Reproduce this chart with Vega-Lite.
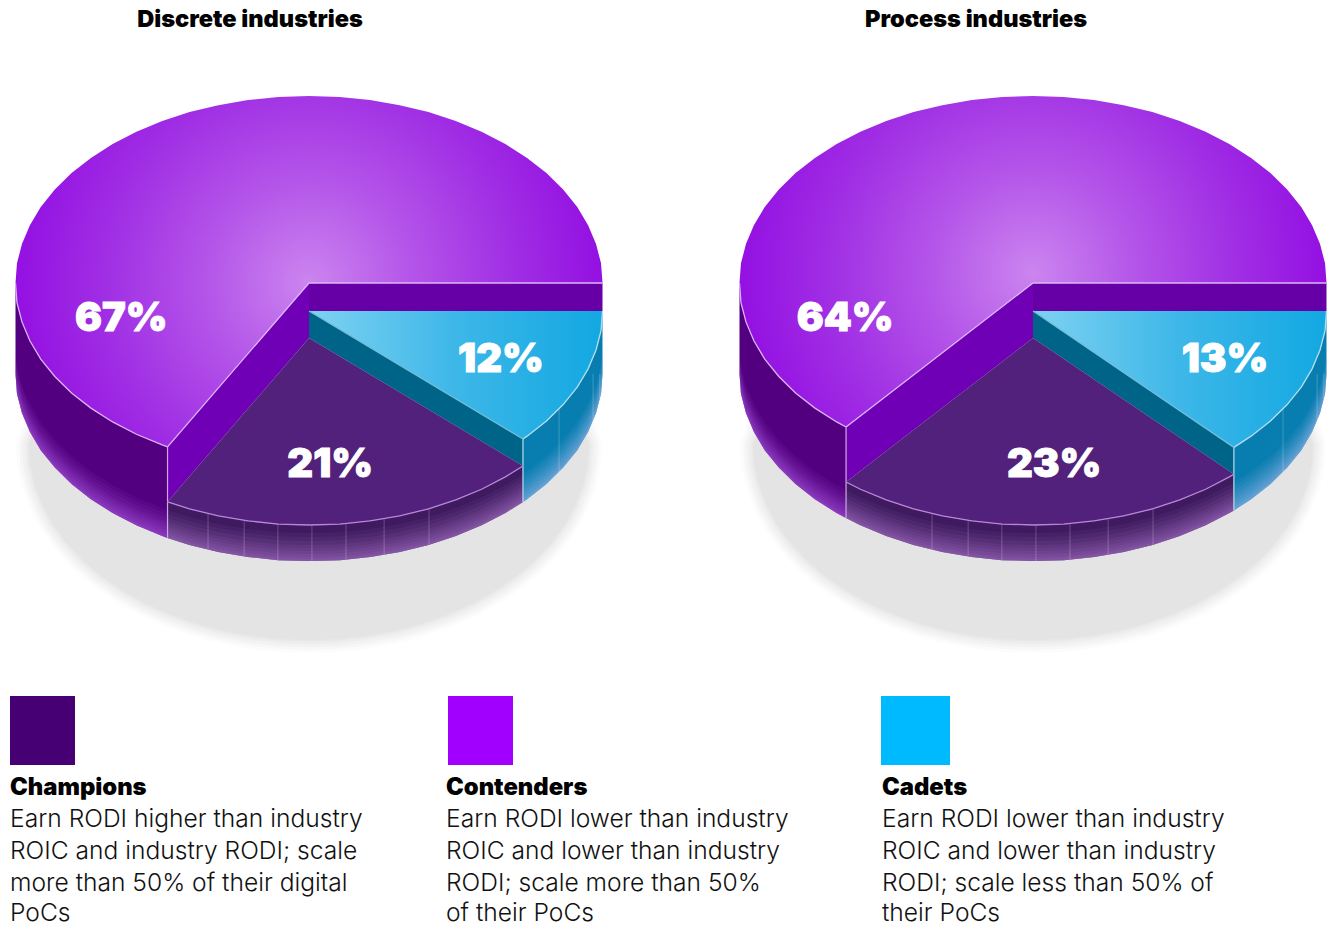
{
"$schema":"https://vega.github.io/schema/vega-lite/v6.json",
"padding":0,"spacing":0,"background":"white",
"config":{"view":{"stroke":null}},
"vconcat":[
{"data":{"values":[
{"panel":["D"],"k":"title","x":-0.201,"y":1.407,"text":"Discrete industries"},
{"panel":["P"],"k":"title","x":-0.194,"y":1.407,"text":"Process industries"},
{"panel":["D"],"k":"label","seg":"Contenders","x":-0.64,"y":-0.19,"share":0.67},
{"panel":["D"],"k":"label","seg":"Champions","x":0.072,"y":-0.971,"share":0.21},
{"panel":["D"],"k":"label","seg":"Cadets","x":0.654,"y":-0.414,"share":0.12},
{"panel":["P"],"k":"label","seg":"Contenders","x":-0.64,"y":-0.19,"share":0.64},
{"panel":["P"],"k":"label","seg":"Champions","x":0.072,"y":-0.971,"share":0.23},
{"panel":["P"],"k":"label","seg":"Cadets","x":0.654,"y":-0.414,"share":0.13},

{"panel":["D","P"],"k":"shadow","x":0.954,"y":-0.866},{"panel":["D","P"],"k":"shadow","x":0.826,"y":-0.345},{"panel":["D","P"],"k":"shadow","x":0.477,"y":0.037},{"panel":["D","P"],"k":"shadow","x":0,"y":0.177},{"panel":["D","P"],"k":"shadow","x":-0.477,"y":0.037},{"panel":["D","P"],"k":"shadow","x":-0.826,"y":-0.345},
{"panel":["D","P"],"k":"shadow","x":-0.954,"y":-0.866},{"panel":["D","P"],"k":"shadow","x":-0.949,"y":-0.976},{"panel":["D","P"],"k":"shadow","x":-0.933,"y":-1.083},{"panel":["D","P"],"k":"shadow","x":-0.907,"y":-1.188},{"panel":["D","P"],"k":"shadow","x":-0.872,"y":-1.29},{"panel":["D","P"],"k":"shadow","x":-0.826,"y":-1.388},{"panel":["D","P"],"k":"shadow","x":-0.772,"y":-1.479},{"panel":["D","P"],"k":"shadow","x":-0.709,"y":-1.564},{"panel":["D","P"],"k":"shadow","x":-0.638,"y":-1.641},{"panel":["D","P"],"k":"shadow","x":-0.561,"y":-1.71},{"panel":["D","P"],"k":"shadow","x":-0.477,"y":-1.769},{"panel":["D","P"],"k":"shadow","x":-0.388,"y":-1.819},{"panel":["D","P"],"k":"shadow","x":-0.295,"y":-1.858},{"panel":["D","P"],"k":"shadow","x":-0.198,"y":-1.886},{"panel":["D","P"],"k":"shadow","x":-0.1,"y":-1.904},{"panel":["D","P"],"k":"shadow","x":0,"y":-1.909},{"panel":["D","P"],"k":"shadow","x":0.1,"y":-1.904},{"panel":["D","P"],"k":"shadow","x":0.198,"y":-1.886},{"panel":["D","P"],"k":"shadow","x":0.295,"y":-1.858},{"panel":["D","P"],"k":"shadow","x":0.388,"y":-1.819},{"panel":["D","P"],"k":"shadow","x":0.477,"y":-1.769},{"panel":["D","P"],"k":"shadow","x":0.561,"y":-1.71},{"panel":["D","P"],"k":"shadow","x":0.638,"y":-1.641},{"panel":["D","P"],"k":"shadow","x":0.709,"y":-1.564},{"panel":["D","P"],"k":"shadow","x":0.772,"y":-1.479},{"panel":["D","P"],"k":"shadow","x":0.826,"y":-1.388},{"panel":["D","P"],"k":"shadow","x":0.872,"y":-1.29},{"panel":["D","P"],"k":"shadow","x":0.907,"y":-1.188},{"panel":["D","P"],"k":"shadow","x":0.933,"y":-1.083},{"panel":["D","P"],"k":"shadow","x":0.949,"y":-0.976},

{"panel":["D","P"],"k":"wall","seg":"Contenders","x":-1,"y":0,"y2":-0.487},
{"panel":["D","P"],"k":"wall","seg":"Contenders","x":-0.995,"y":-0.105,"y2":-0.592},
{"panel":["D","P"],"k":"wall","seg":"Contenders","x":-0.978,"y":-0.208,"y2":-0.695},
{"panel":["D","P"],"k":"wall","seg":"Contenders","x":-0.951,"y":-0.309,"y2":-0.796},
{"panel":["D","P"],"k":"wall","seg":"Contenders","x":-0.914,"y":-0.407,"y2":-0.894},
{"panel":["D","P"],"k":"wall","seg":"Contenders","x":-0.866,"y":-0.5,"y2":-0.987},
{"panel":["D","P"],"k":"wall","seg":"Contenders","x":-0.809,"y":-0.588,"y2":-1.075},
{"panel":["D","P"],"k":"wall","seg":"Contenders","x":-0.743,"y":-0.669,"y2":-1.156},
{"panel":["D","P"],"k":"wall","seg":"Contenders","x":-0.669,"y":-0.743,"y2":-1.23},
{"panel":["P"],"k":"wall","seg":"Contenders","x":-0.637,"y":-0.77,"y2":-1.257},
{"panel":["D"],"k":"wall","seg":"Contenders","x":-0.588,"y":-0.809,"y2":-1.296},
{"panel":["D"],"k":"wall","seg":"Contenders","x":-0.5,"y":-0.866,"y2":-1.353},
{"panel":["D"],"k":"wall","seg":"Contenders","x":-0.482,"y":-0.876,"y2":-1.363},

{"panel":["P"],"k":"wall","seg":"Champions","x":-0.637,"y":-1.064,"y2":-1.257},
{"panel":["P"],"k":"wall","seg":"Champions","x":-0.588,"y":-1.103,"y2":-1.296},
{"panel":["P"],"k":"wall","seg":"Champions","x":-0.5,"y":-1.16,"y2":-1.353},
{"panel":["D"],"k":"wall","seg":"Champions","x":-0.482,"y":-1.17,"y2":-1.363},
{"panel":["D","P"],"k":"wall","seg":"Champions","x":-0.407,"y":-1.208,"y2":-1.401},
{"panel":["D","P"],"k":"wall","seg":"Champions","x":-0.309,"y":-1.245,"y2":-1.438},
{"panel":["D","P"],"k":"wall","seg":"Champions","x":-0.208,"y":-1.272,"y2":-1.465},
{"panel":["D","P"],"k":"wall","seg":"Champions","x":-0.105,"y":-1.289,"y2":-1.482},
{"panel":["D","P"],"k":"wall","seg":"Champions","x":0,"y":-1.294,"y2":-1.487},
{"panel":["D","P"],"k":"wall","seg":"Champions","x":0.105,"y":-1.289,"y2":-1.482},
{"panel":["D","P"],"k":"wall","seg":"Champions","x":0.208,"y":-1.272,"y2":-1.465},
{"panel":["D","P"],"k":"wall","seg":"Champions","x":0.309,"y":-1.245,"y2":-1.438},
{"panel":["D","P"],"k":"wall","seg":"Champions","x":0.407,"y":-1.208,"y2":-1.401},
{"panel":["D","P"],"k":"wall","seg":"Champions","x":0.5,"y":-1.16,"y2":-1.353},
{"panel":["D","P"],"k":"wall","seg":"Champions","x":0.588,"y":-1.103,"y2":-1.296},
{"panel":["D","P"],"k":"wall","seg":"Champions","x":0.669,"y":-1.037,"y2":-1.23},
{"panel":["P"],"k":"wall","seg":"Champions","x":0.6845,"y":-1.023,"y2":-1.216},
{"panel":["D"],"k":"wall","seg":"Champions","x":0.729,"y":-0.9785,"y2":-1.1715},

{"panel":["P"],"k":"wall","seg":"Cadets","x":0.6845,"y":-0.879,"y2":-1.216},
{"panel":["D"],"k":"wall","seg":"Cadets","x":0.729,"y":-0.8345,"y2":-1.1715},
{"panel":["D","P"],"k":"wall","seg":"Cadets","x":0.743,"y":-0.819,"y2":-1.156},
{"panel":["D","P"],"k":"wall","seg":"Cadets","x":0.809,"y":-0.738,"y2":-1.075},
{"panel":["D","P"],"k":"wall","seg":"Cadets","x":0.866,"y":-0.65,"y2":-0.987},
{"panel":["D","P"],"k":"wall","seg":"Cadets","x":0.914,"y":-0.557,"y2":-0.894},
{"panel":["D","P"],"k":"wall","seg":"Cadets","x":0.951,"y":-0.459,"y2":-0.796},
{"panel":["D","P"],"k":"wall","seg":"Cadets","x":0.978,"y":-0.358,"y2":-0.695},
{"panel":["D","P"],"k":"wall","seg":"Cadets","x":0.995,"y":-0.255,"y2":-0.592},
{"panel":["D","P"],"k":"wall","seg":"Cadets","x":1,"y":-0.15,"y2":-0.487},

{"panel":["D","P"],"k":"seam","x":-0.344,"y":-1.233,"y2":-1.426},
{"panel":["D","P"],"k":"seam","x":-0.221,"y":-1.269,"y2":-1.462},
{"panel":["D","P"],"k":"seam","x":-0.106,"y":-1.288,"y2":-1.481},
{"panel":["D","P"],"k":"seam","x":0.01,"y":-1.294,"y2":-1.487},
{"panel":["D","P"],"k":"seam","x":0.126,"y":-1.286,"y2":-1.479},
{"panel":["D","P"],"k":"seam","x":0.256,"y":-1.261,"y2":-1.454},
{"panel":["D","P"],"k":"seam","x":0.409,"y":-1.207,"y2":-1.4},
{"panel":["D","P"],"k":"seam","x":0.852,"y":-0.674,"y2":-1.011},
{"panel":["D","P"],"k":"seam","x":0.968,"y":-0.487,"y2":-0.739},
{"panel":["D","P"],"k":"seam","x":0.991,"y":-0.487,"y2":-0.621},

{"panel":["D"],"k":"corner","seg":"Contenders","x":-0.482,"y":-0.876,"y2":-1.363},
{"panel":["D"],"k":"corner","seg":"Cadets","x":0.729,"y":-0.8345,"y2":-1.1715},
{"panel":["P"],"k":"corner","seg":"Contenders","x":-0.637,"y":-0.77,"y2":-1.257},
{"panel":["P"],"k":"corner","seg":"Cadets","x":0.6845,"y":-0.879,"y2":-1.216},

{"panel":["D","P"],"k":"back","seg":"Contenders","x":0,"y":0,"y2":-0.15},
{"panel":["D","P"],"k":"back","seg":"Contenders","x":1,"y":0,"y2":-0.15},
{"panel":["D"],"k":"band","seg":"Contenders","x":-0.482,"y":-0.876,"y2":-1.17},
{"panel":["P"],"k":"band","seg":"Contenders","x":-0.637,"y":-0.77,"y2":-1.064},
{"panel":["D","P"],"k":"band","seg":"Contenders","x":0,"y":0,"y2":-0.294},
{"panel":["D","P"],"k":"band","seg":"Cadets","x":0,"y":-0.15,"y2":-0.294},
{"panel":["P"],"k":"band","seg":"Cadets","x":0.6845,"y":-0.879,"y2":-1.023},
{"panel":["D"],"k":"band","seg":"Cadets","x":0.729,"y":-0.8345,"y2":-0.9785},

{"panel":["D","P"],"k":"face","seg":"Champions","x":0,"y":-0.294},
{"panel":["P"],"k":"face","seg":"Champions","x":-0.637,"y":-1.064},
{"panel":["P"],"k":"face","seg":"Champions","x":-0.588,"y":-1.103},
{"panel":["P"],"k":"face","seg":"Champions","x":-0.5,"y":-1.16},
{"panel":["D"],"k":"face","seg":"Champions","x":-0.482,"y":-1.17},
{"panel":["D","P"],"k":"face","seg":"Champions","x":-0.407,"y":-1.208},
{"panel":["D","P"],"k":"face","seg":"Champions","x":-0.309,"y":-1.245},
{"panel":["D","P"],"k":"face","seg":"Champions","x":-0.208,"y":-1.272},
{"panel":["D","P"],"k":"face","seg":"Champions","x":-0.105,"y":-1.289},
{"panel":["D","P"],"k":"face","seg":"Champions","x":0,"y":-1.294},
{"panel":["D","P"],"k":"face","seg":"Champions","x":0.105,"y":-1.289},
{"panel":["D","P"],"k":"face","seg":"Champions","x":0.208,"y":-1.272},
{"panel":["D","P"],"k":"face","seg":"Champions","x":0.309,"y":-1.245},
{"panel":["D","P"],"k":"face","seg":"Champions","x":0.407,"y":-1.208},
{"panel":["D","P"],"k":"face","seg":"Champions","x":0.5,"y":-1.16},
{"panel":["D","P"],"k":"face","seg":"Champions","x":0.588,"y":-1.103},
{"panel":["D","P"],"k":"face","seg":"Champions","x":0.669,"y":-1.037},
{"panel":["P"],"k":"face","seg":"Champions","x":0.6845,"y":-1.023},
{"panel":["D"],"k":"face","seg":"Champions","x":0.729,"y":-0.9785},

{"panel":["D","P"],"k":"face","seg":"Cadets","x":0,"y":-0.15},
{"panel":["P"],"k":"face","seg":"Cadets","x":0.6845,"y":-0.879},
{"panel":["D"],"k":"face","seg":"Cadets","x":0.729,"y":-0.8345},
{"panel":["D","P"],"k":"face","seg":"Cadets","x":0.743,"y":-0.819},
{"panel":["D","P"],"k":"face","seg":"Cadets","x":0.809,"y":-0.738},
{"panel":["D","P"],"k":"face","seg":"Cadets","x":0.866,"y":-0.65},
{"panel":["D","P"],"k":"face","seg":"Cadets","x":0.914,"y":-0.557},
{"panel":["D","P"],"k":"face","seg":"Cadets","x":0.951,"y":-0.459},
{"panel":["D","P"],"k":"face","seg":"Cadets","x":0.978,"y":-0.358},
{"panel":["D","P"],"k":"face","seg":"Cadets","x":0.995,"y":-0.255},
{"panel":["D","P"],"k":"face","seg":"Cadets","x":1,"y":-0.15},

{"panel":["D","P"],"k":"face","seg":"Contenders","x":0,"y":0},
{"panel":["D","P"],"k":"face","seg":"Contenders","x":1,"y":0},
{"panel":["D","P"],"k":"face","seg":"Contenders","x":0.995,"y":0.105},
{"panel":["D","P"],"k":"face","seg":"Contenders","x":0.978,"y":0.208},
{"panel":["D","P"],"k":"face","seg":"Contenders","x":0.951,"y":0.309},
{"panel":["D","P"],"k":"face","seg":"Contenders","x":0.914,"y":0.407},
{"panel":["D","P"],"k":"face","seg":"Contenders","x":0.866,"y":0.5},
{"panel":["D","P"],"k":"face","seg":"Contenders","x":0.809,"y":0.588},
{"panel":["D","P"],"k":"face","seg":"Contenders","x":0.743,"y":0.669},
{"panel":["D","P"],"k":"face","seg":"Contenders","x":0.669,"y":0.743},
{"panel":["D","P"],"k":"face","seg":"Contenders","x":0.588,"y":0.809},
{"panel":["D","P"],"k":"face","seg":"Contenders","x":0.5,"y":0.866},
{"panel":["D","P"],"k":"face","seg":"Contenders","x":0.407,"y":0.914},
{"panel":["D","P"],"k":"face","seg":"Contenders","x":0.309,"y":0.951},
{"panel":["D","P"],"k":"face","seg":"Contenders","x":0.208,"y":0.978},
{"panel":["D","P"],"k":"face","seg":"Contenders","x":0.105,"y":0.995},
{"panel":["D","P"],"k":"face","seg":"Contenders","x":0,"y":1},
{"panel":["D","P"],"k":"face","seg":"Contenders","x":-0.105,"y":0.995},
{"panel":["D","P"],"k":"face","seg":"Contenders","x":-0.208,"y":0.978},
{"panel":["D","P"],"k":"face","seg":"Contenders","x":-0.309,"y":0.951},
{"panel":["D","P"],"k":"face","seg":"Contenders","x":-0.407,"y":0.914},
{"panel":["D","P"],"k":"face","seg":"Contenders","x":-0.5,"y":0.866},
{"panel":["D","P"],"k":"face","seg":"Contenders","x":-0.588,"y":0.809},
{"panel":["D","P"],"k":"face","seg":"Contenders","x":-0.669,"y":0.743},
{"panel":["D","P"],"k":"face","seg":"Contenders","x":-0.743,"y":0.669},
{"panel":["D","P"],"k":"face","seg":"Contenders","x":-0.809,"y":0.588},
{"panel":["D","P"],"k":"face","seg":"Contenders","x":-0.866,"y":0.5},
{"panel":["D","P"],"k":"face","seg":"Contenders","x":-0.914,"y":0.407},
{"panel":["D","P"],"k":"face","seg":"Contenders","x":-0.951,"y":0.309},
{"panel":["D","P"],"k":"face","seg":"Contenders","x":-0.978,"y":0.208},
{"panel":["D","P"],"k":"face","seg":"Contenders","x":-0.995,"y":0.105},
{"panel":["D","P"],"k":"face","seg":"Contenders","x":-1,"y":0},
{"panel":["D","P"],"k":"face","seg":"Contenders","x":-0.995,"y":-0.105},
{"panel":["D","P"],"k":"face","seg":"Contenders","x":-0.978,"y":-0.208},
{"panel":["D","P"],"k":"face","seg":"Contenders","x":-0.951,"y":-0.309},
{"panel":["D","P"],"k":"face","seg":"Contenders","x":-0.914,"y":-0.407},
{"panel":["D","P"],"k":"face","seg":"Contenders","x":-0.866,"y":-0.5},
{"panel":["D","P"],"k":"face","seg":"Contenders","x":-0.809,"y":-0.588},
{"panel":["D","P"],"k":"face","seg":"Contenders","x":-0.743,"y":-0.669},
{"panel":["D","P"],"k":"face","seg":"Contenders","x":-0.669,"y":-0.743},
{"panel":["P"],"k":"face","seg":"Contenders","x":-0.637,"y":-0.77},
{"panel":["D"],"k":"face","seg":"Contenders","x":-0.588,"y":-0.809},
{"panel":["D"],"k":"face","seg":"Contenders","x":-0.5,"y":-0.866},
{"panel":["D"],"k":"face","seg":"Contenders","x":-0.482,"y":-0.876}
]},
"transform":[{"flatten":["panel"]}],
"facet":{"column":{"field":"panel","type":"nominal","header":null}},
"spacing":118,
"spec":{
"width":606,"height":680,
"encoding":{
"x":{"field":"x","type":"quantitative","axis":null,"scale":{"domain":[-1.05281,1.01193]}},
"y":{"field":"y","type":"quantitative","axis":null,"stack":null,"scale":{"domain":[-2.12299,1.51337]}}
},
"layer":[
{"transform":[{"filter":"datum.k==='shadow'"}],
 "encoding":{"order":{"value":null}},
 "layer":[
  {"mark":{"type":"line","interpolate":"linear-closed","stroke":"#e4e4e4","strokeJoin":"round","strokeWidth":26,"strokeOpacity":0.12}},
  {"mark":{"type":"line","interpolate":"linear-closed","stroke":"#e4e4e4","strokeJoin":"round","strokeWidth":20,"strokeOpacity":0.18}},
  {"mark":{"type":"line","interpolate":"linear-closed","stroke":"#e4e4e4","strokeJoin":"round","strokeWidth":14,"strokeOpacity":0.25}},
  {"mark":{"type":"line","interpolate":"linear-closed","stroke":"#e4e4e4","strokeJoin":"round","strokeWidth":8,"strokeOpacity":0.35}},
  {"mark":{"type":"line","interpolate":"linear-closed","stroke":"#e4e4e4","strokeJoin":"round","strokeWidth":3,"strokeOpacity":0.6}},
  {"mark":{"type":"line","interpolate":"linear-closed","strokeWidth":0,"fill":"#e4e4e4"}}
 ]},
{"transform":[{"filter":"datum.k==='wall'"}],
 "mark":{"type":"area"},
 "encoding":{"y2":{"field":"y2"},"color":{"field":"seg","type":"nominal","legend":null,"scale":{"domain":["Contenders","Champions","Cadets"],"range":["#52007f","#3f1a5f","#087eb0"]}}}},
{"transform":[{"filter":"datum.k==='wall'"}],
 "encoding":{"y":{"field":"y2","type":"quantitative","stack":null,"axis":null,"scale":{"domain":[-2.12299,1.51337]}},"y2":{"field":"y2"},"color":{"field":"seg","type":"nominal","legend":null,"scale":{"domain":["Contenders","Champions","Cadets"],"range":["#b05ee8","#b07ad0","#a0b8f0"]}}},
 "layer":[
  {"mark":{"type":"area","yOffset":-28,"opacity":0.07}},
  {"mark":{"type":"area","yOffset":-24,"opacity":0.08}},
  {"mark":{"type":"area","yOffset":-20,"opacity":0.09}},
  {"mark":{"type":"area","yOffset":-16,"opacity":0.1}},
  {"mark":{"type":"area","yOffset":-13,"opacity":0.1}},
  {"mark":{"type":"area","yOffset":-10,"opacity":0.11}},
  {"mark":{"type":"area","yOffset":-7,"opacity":0.12}},
  {"mark":{"type":"area","yOffset":-4,"opacity":0.13}},
  {"mark":{"type":"area","yOffset":-2,"opacity":0.14}}
 ]},
{"transform":[{"filter":"datum.k==='seam'"}],
 "mark":{"type":"rule","stroke":"#ffffff","strokeOpacity":0.22,"strokeWidth":1},
 "encoding":{"y2":{"field":"y2"}}},
{"transform":[{"filter":"datum.k==='back'"}],
 "mark":{"type":"area","color":"#6600a6"},
 "encoding":{"y2":{"field":"y2"}}},
{"transform":[{"filter":"datum.k==='band'"}],
 "mark":{"type":"area"},
 "encoding":{"y2":{"field":"y2"},"color":{"field":"seg","type":"nominal","legend":null,"scale":{"domain":["Contenders","Cadets"],"range":["#7000b5","#006488"]}}}},
{"transform":[{"filter":"datum.k==='corner'"}],
 "mark":{"type":"rule","strokeWidth":1.2},
 "encoding":{"y2":{"field":"y2"},"color":{"field":"seg","type":"nominal","legend":null,"scale":{"domain":["Contenders","Cadets"],"range":["#cfa6ea","#b5dcec"]}}}},
{"transform":[{"filter":"datum.k==='face'&&datum.seg==='Champions'"}],
 "mark":{"type":"line","interpolate":"linear-closed","strokeWidth":0,"fill":"#51217b"},
 "encoding":{"order":{"value":null}}},
{"transform":[{"filter":"datum.k==='face'&&datum.seg==='Cadets'"}],
 "mark":{"type":"line","interpolate":"linear-closed","strokeWidth":0,"fill":{"gradient":"linear","x1":0,"y1":0,"x2":1,"y2":0,"stops":[{"offset":0,"color":"#7fd2f1"},{"offset":0.5,"color":"#3db7e8"},{"offset":1,"color":"#12a8e2"}]}},
 "encoding":{"order":{"value":null}}},
{"transform":[{"filter":"datum.k==='face'&&datum.seg==='Contenders'"}],
 "mark":{"type":"line","interpolate":"linear-closed","strokeWidth":0,"fill":{"gradient":"radial","x1":0.5,"y1":0.52,"r1":0,"x2":0.5,"y2":0.52,"r2":0.5,"stops":[{"offset":0,"color":"#cb85ef"},{"offset":0.35,"color":"#b455e9"},{"offset":0.7,"color":"#a02ee4"},{"offset":1,"color":"#9410e2"}]}},
 "encoding":{"order":{"value":null}}},
{"transform":[{"filter":"datum.k==='wall'"}],
 "mark":{"type":"line","strokeWidth":1.3},
 "encoding":{"color":{"field":"seg","type":"nominal","legend":null,"scale":{"domain":["Contenders","Champions","Cadets"],"range":["#d9b2f2","#b985dc","#b5dcec"]}}}},
{"transform":[{"filter":"datum.k==='band'||datum.k==='back'"}],
 "mark":{"type":"line","strokeWidth":1.3},
 "encoding":{"detail":{"field":"k"},"color":{"field":"seg","type":"nominal","legend":null,"scale":{"domain":["Contenders","Cadets"],"range":["#dcb8f4","#70bcd8"]}}}},
{"transform":[{"filter":"datum.k==='label'"}],
 "mark":{"type":"text","font":"Inter","fontWeight":900,"fontSize":40,"color":"#ffffff","stroke":"#ffffff","strokeWidth":1,"align":"center","baseline":"middle"},
 "encoding":{"text":{"field":"share","type":"quantitative","format":".0%"}}},
{"transform":[{"filter":"datum.k==='title'"}],
 "mark":{"type":"text","font":"Inter","fontWeight":900,"fontSize":23.6,"color":"#000000","align":"center","baseline":"middle"},
 "encoding":{"text":{"field":"text"}}}
],
"resolve":{"scale":{"color":"independent"}}
}},
{"width":1330,"height":246,
"encoding":{
"x":{"field":"x","type":"quantitative","axis":null,"scale":{"domain":[0,100]}},
"y":{"field":"line","type":"quantitative","axis":null,"scale":{"domain":[4.313,-3.375]}}
},
"layer":[
{"data":{"values":[
{"tier":"Champions","x":0.752,"x2":5.639,"line":-2.875,"line2":-0.719},
{"tier":"Contenders","x":33.684,"x2":38.571,"line":-2.875,"line2":-0.719},
{"tier":"Cadets","x":66.241,"x2":71.429,"line":-2.875,"line2":-0.719}
]},
"mark":{"type":"rect"},
"encoding":{"x2":{"field":"x2"},"y2":{"field":"line2"},"color":{"field":"tier","type":"nominal","legend":null,"scale":{"domain":["Champions","Contenders","Cadets"],"range":["#460073","#a100ff","#00baff"]}}}},
{"data":{"values":[
{"x":0.752,"line":0,"text":"Champions"},
{"x":33.534,"line":0,"text":"Contenders"},
{"x":66.316,"line":0,"text":"Cadets"}
]},
"mark":{"type":"text","font":"Inter","fontWeight":900,"fontSize":23.8,"color":"#000000","align":"left","baseline":"middle"},
"encoding":{"text":{"field":"text"}}},
{"data":{"values":[
{"x":0.752,"line":1,"text":"Earn RODI higher than industry"},
{"x":0.752,"line":2,"text":"ROIC and industry RODI; scale"},
{"x":0.752,"line":3,"text":"more than 50% of their digital"},
{"x":0.752,"line":3.94,"text":"PoCs"},
{"x":33.534,"line":1,"text":"Earn RODI lower than industry"},
{"x":33.534,"line":2,"text":"ROIC and lower than industry"},
{"x":33.534,"line":3,"text":"RODI; scale more than 50%"},
{"x":33.534,"line":3.94,"text":"of their PoCs"},
{"x":66.316,"line":1,"text":"Earn RODI lower than industry"},
{"x":66.316,"line":2,"text":"ROIC and lower than industry"},
{"x":66.316,"line":3,"text":"RODI; scale less than 50% of"},
{"x":66.316,"line":3.94,"text":"their PoCs"}
]},
"mark":{"type":"text","font":"Inter","fontWeight":300,"fontSize":24.6,"color":"#111111","align":"left","baseline":"middle"},
"encoding":{"text":{"field":"text"}}}
]}
]}
